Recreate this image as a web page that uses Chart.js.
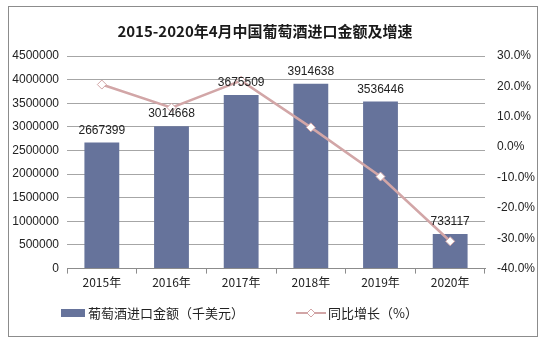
<!DOCTYPE html>
<html>
<head>
<meta charset="utf-8">
<script src="https://cdn.jsdelivr.net/npm/chart.js@4"></script>
<style>
  html, body { margin: 0; padding: 0; background: #fff; }
  #wrap { width: 544px; height: 344px; position: relative; }
</style>
</head>
<body>
<div id="wrap"><canvas id="c" width="544" height="344"></canvas></div>
<script>
// 数据
const years = ['2015年', '2016年', '2017年', '2018年', '2019年', '2020年'];
const importValue = [2667399, 3014668, 3675509, 3914638, 3536446, 733117];
const growthRate = [20.6, 13.0, 21.9, 6.5, -9.7, -31.0];

const TITLE = '2015-2020年4月中国葡萄酒进口金额及增速';
const BAR_LABEL = '葡萄酒进口金额（千美元）';
const LINE_LABEL = '同比增长（%）';

const BAR_COLOR = '#66739B';
const LINE_COLOR = '#D2A6A7';
const CJK = '"Noto Sans CJK SC", "Liberation Sans", sans-serif';
const TICK_FONT = '"Liberation Sans", Arial, sans-serif';

// 边框、标题、数值标签和图例
const decoPlugin = {
    id: 'deco',
    beforeDraw(chart) {
        const ctx = chart.ctx;
        ctx.save();
        ctx.fillStyle = '#fff';
        ctx.fillRect(0, 0, chart.width, chart.height);
        ctx.strokeStyle = '#8c8c8c';
        ctx.lineWidth = 1;
        ctx.strokeRect(8.5, 6.5, 529, 330);
        ctx.fillStyle = '#1a1a1a';
        ctx.font = 'bold 15px ' + CJK;
        ctx.textAlign = 'center';
        ctx.textBaseline = 'middle';
        ctx.fillText(TITLE, 265, 31);
        ctx.restore();
    },
    afterDatasetsDraw(chart) {
        const ctx = chart.ctx;
        const meta = chart.getDatasetMeta(0);
        ctx.save();
        ctx.fillStyle = '#222';
        ctx.font = '12px ' + TICK_FONT;
        ctx.textAlign = 'center';
        ctx.textBaseline = 'middle';
        meta.data.forEach((bar, i) => {
            ctx.fillText(String(importValue[i]), bar.x, bar.y - 12);
        });

        // 图例
        const ly = 313;
        ctx.fillStyle = BAR_COLOR;
        ctx.fillRect(61, ly - 4, 24, 8);
        ctx.fillStyle = '#222';
        ctx.font = '13px ' + CJK;
        ctx.textAlign = 'left';
        ctx.fillText(BAR_LABEL, 88, ly);

        ctx.strokeStyle = LINE_COLOR;
        ctx.lineWidth = 2;
        ctx.beginPath();
        ctx.moveTo(296, ly);
        ctx.lineTo(326, ly);
        ctx.stroke();
        ctx.fillStyle = '#fff';
        ctx.lineWidth = 1;
        ctx.beginPath();
        ctx.moveTo(311, ly - 4);
        ctx.lineTo(315, ly);
        ctx.lineTo(311, ly + 4);
        ctx.lineTo(307, ly);
        ctx.closePath();
        ctx.fill();
        ctx.stroke();
        ctx.fillStyle = '#222';
        ctx.fillText(LINE_LABEL, 328, ly);
        ctx.restore();
    }
};

new Chart(document.getElementById('c').getContext('2d'), {
    type: 'bar',
    data: {
        labels: years,
        datasets: [
            {
                type: 'bar',
                data: importValue,
                backgroundColor: BAR_COLOR,
                barPercentage: 0.5,
                categoryPercentage: 1.0,
                yAxisID: 'y',
                order: 1
            },
            {
                type: 'line',
                data: growthRate,
                borderColor: LINE_COLOR,
                borderWidth: 2.5,
                pointStyle: 'rectRot',
                pointRadius: 4.5,
                pointBackgroundColor: '#fff',
                pointBorderColor: LINE_COLOR,
                pointBorderWidth: 1,
                tension: 0,
                yAxisID: 'y1',
                order: 0
            }
        ]
    },
    options: {
        responsive: false,
        animation: false,
        devicePixelRatio: 1,
        layout: { padding: { left: 10, right: 8, top: 56, bottom: 52 } },
        plugins: {
            legend: { display: false },
            tooltip: { enabled: false }
        },
        scales: {
            x: {
                grid: {
                    display: true,
                    offset: true,
                    drawOnChartArea: false,
                    tickLength: 5,
                    color: '#8c8c8c'
                },
                border: { color: '#8c8c8c' },
                ticks: {
                    color: '#222',
                    font: { family: CJK, size: 12 },
                    padding: 2,
                    maxRotation: 0
                }
            },
            y: {
                position: 'left',
                min: 0,
                max: 4500000,
                afterFit(s) { s.width = 57; },
                ticks: {
                    stepSize: 500000,
                    color: '#222',
                    font: { family: TICK_FONT, size: 12 },
                    padding: 8,
                    callback: v => String(v)
                },
                grid: { color: '#a6a6a6', drawTicks: false },
                border: { display: false }
            },
            y1: {
                position: 'right',
                min: -40,
                max: 30,
                afterFit(s) { s.width = 51; },
                ticks: {
                    stepSize: 10,
                    color: '#222',
                    font: { family: TICK_FONT, size: 12 },
                    padding: 12,
                    callback: v => v.toFixed(1) + '%'
                },
                grid: { drawOnChartArea: false, drawTicks: false },
                border: { display: false }
            }
        }
    },
    plugins: [decoPlugin]
});
</script>
</body>
</html>
